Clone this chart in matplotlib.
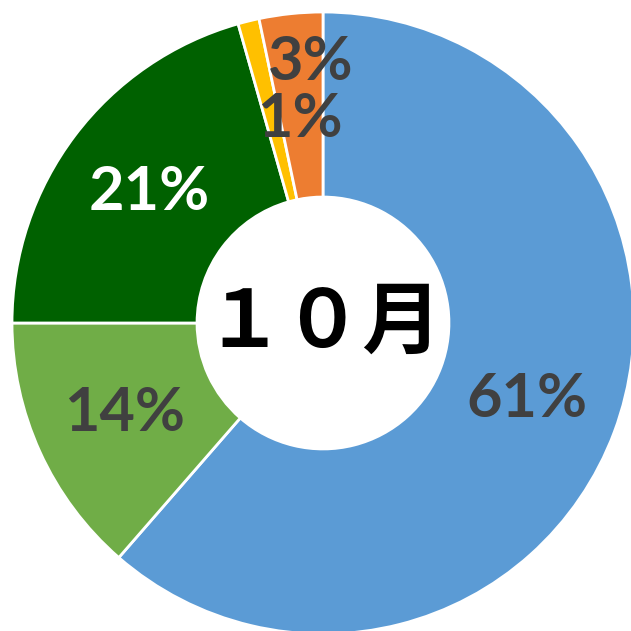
import matplotlib.pyplot as plt

# share of each category (clockwise from 12 o'clock)
labels = ['A', 'B', 'C', 'D', 'E']
shares = [61.4, 13.6, 20.6, 1.1, 3.3]
colors = ['#5B9BD5', '#70AD47', '#006100', '#FFC000', '#ED7D31']
pct_colors = ['#404040', '#404040', 'white', '#404040', '#404040']
center_label = '１０月'

fig = plt.figure(figsize=(6.31, 6.31), dpi=100)
ax = fig.add_axes([0, 0, 1, 1])

wedges, texts, autotexts = ax.pie(
    shares, colors=colors, startangle=90, counterclock=False,
    radius=1.0, pctdistance=0.70,
    autopct=lambda p: '%d%%' % round(p),
    wedgeprops=dict(width=0.595, edgecolor='white', linewidth=2),
    textprops=dict(fontsize=44, fontweight='bold',
                   family=['Lato', 'DejaVu Sans']))

for t, c in zip(autotexts, pct_colors):
    t.set_color(c)

# small slices: labels nudged up like in the original
autotexts[4].set_position((-0.04, 0.84))
autotexts[3].set_position((-0.075, 0.655))

ax.text(0, 0, center_label, ha='center', va='center', fontsize=57,
        fontweight='bold', family=['Noto Sans CJK JP', 'DejaVu Sans'])

ax.set_xlim(-323 / 311, 308 / 311)
ax.set_ylim(-308 / 311, 323 / 311)
ax.set_aspect('equal')
ax.axis('off')

fig.savefig('out.png', dpi=100)
